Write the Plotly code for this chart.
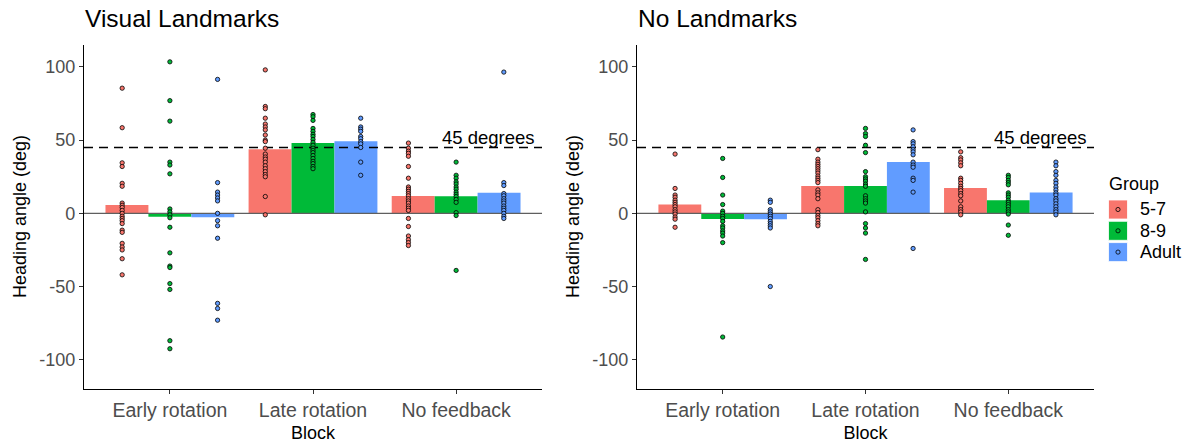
import plotly.graph_objects as go

W, H = 1187, 443

blocks = ["Early rotation", "Late rotation", "No feedback"]
groups = ["5-7", "8-9", "Adult"]
group_colors = ["#F8766D", "#00BA38", "#619CFF"]
panel_titles = ["Visual Landmarks", "No Landmarks"]
y_title = "Heading angle (deg)"
x_title = "Block"
y_ticks = [-100, -50, 0, 50, 100]
target_angle = 45
target_label = "45 degrees"

# Mean heading angle per block (Early, Late, No feedback)
vis_mean_5_7 = [5.7, 43.7, 11.8]
vis_mean_8_9 = [-2.3, 48.0, 11.6]
vis_mean_adult = [-2.6, 49.3, 14.0]
nol_mean_5_7 = [6.0, 18.6, 17.3]
nol_mean_8_9 = [-3.9, 18.6, 9.0]
nol_mean_adult = [-4.0, 35.0, 14.3]

# Individual participants, Visual Landmarks
vis_pts_5_7 = [
    [85.5, 58.5, 34.5, 32, 20.5, 18.5, 7, 5.5, 4, 2, 0, -2, -3.5, -5, -7, -11.5, -13, -20.5, -23, -25, -31, -42],
    [98, 73, 71.5, 65, 61, 59, 57, 53.5, 50, 49, 44.5, 40.5, 38.5, 37, 35, 32.5, 30.5, 28.5, 26.5, 25, 11.5, -1],
    [48, 44.5, 42.5, 41, 39, 32, 24, 18, 16.5, 15, 13.5, 12, 10, 8.5, 7, 5, 3.5, 2, -3.5, -9, -15.5, -18, -20, -22],
]
vis_pts_8_9 = [
    [103.5, 77, 63, 35, 33, 27, 3, 1, -1, -3, -9.5, -27, -36, -37, -48, -52, -87, -92.5],
    [67.5, 66, 63.5, 58, 56, 54, 52.5, 50.5, 48.5, 46.5, 44.5, 43, 41.5, 39.5, 37.5, 35.5, 34, 32, 30.5],
    [35, 26, 24, 21.5, 20, 18, 16.5, 14.5, 13, 11.5, 9.5, 7.5, 0.5, -1.5, -39],
]
vis_pts_adult = [
    [91.5, 21, 14.5, 12.5, 10.5, 8.5, 0, -5, -8.5, -17, -61.5, -65, -73],
    [65, 59, 57.5, 56, 52.5, 51, 49, 47.5, 45, 35, 26],
    [96.5, 21, 19, 13.5, 12, 10, 8.5, 7, 5, 3.5, 2, 0, -2, -3.5],
]

# Individual participants, No Landmarks
nol_pts_5_7 = [
    [40.5, 17, 12.5, 11, 9, 7.5, 6, 4.5, 2.5, 1, -0.5, -2.5, -4, -9.5],
    [43.5, 37, 35, 33.5, 32, 30.5, 29, 27.5, 25.5, 24, 22.5, 21, 16, 14, 12.5, 10, 2.5, 0.5, -1.5, -3, -5, -7, -8.5],
    [42, 38, 36.5, 34.5, 32.5, 24, 22.5, 20.5, 18.5, 17, 15.5, 13.5, 12, 8.5, 4.5, 2.5, 1, -1],
]
nol_pts_8_9 = [
    [37.5, 24.5, 12.5, 6, 1.5, 0, -2, -3.5, -5.5, -8.5, -10, -12, -13.5, -15.5, -20, -84.5],
    [58, 54.5, 52.5, 46.5, 41.5, 28.5, 25, 23.5, 22, 20, 18.5, 12, 10, 8.5, 7, 1, -7, -10, -13.5, -31.5],
    [26, 24.5, 22.5, 21, 19.5, 14, 12.5, 11, 9, 7.5, 6, 4.5, 2.5, 1, -0.5, -8, -15],
]
nol_pts_adult = [
    [9, 7.5, 2.5, 1, -0.5, -2, -3.5, -5.5, -7, -8.5, -10, -50],
    [57, 49, 47.5, 45.5, 43.5, 42, 40, 35, 33, 31.5, 24, 22.5, 14.5, -24],
    [35, 32.5, 28.5, 26, 22.5, 20.5, 18, 16, 14, 12.5, 10, 8.5, 6.5, 4.5, 2.5, 1, -1],
]

panels = [
    ([vis_mean_5_7, vis_mean_8_9, vis_mean_adult], [vis_pts_5_7, vis_pts_8_9, vis_pts_adult]),
    ([nol_mean_5_7, nol_mean_8_9, nol_mean_adult], [nol_pts_5_7, nol_pts_8_9, nol_pts_adult]),
]

FONT = "Arial, Liberation Sans, sans-serif"
BAR_W = 0.3          # dodged bar width
PT_STEP = 1 / 3      # dodge step for the points
X_RANGE = [0.4, 3.6]
Y_RANGE = [-120, 115]

# panel placement in pixels
panel_px = [(84, 542), (637, 1094)]
top_px, bottom_px = 45, 389
y_title_offset = 64   # distance of the rotated y title centre left of the panel edge

cat_x = [i + 1 for i in range(len(blocks))]

fig = go.Figure()

for p, (means, pts) in enumerate(panels):
    xa = "x" if p == 0 else "x2"
    ya = "y" if p == 0 else "y2"
    # bars (means)
    for g, name in enumerate(groups):
        fig.add_trace(go.Bar(
            x=[c + (g - 1) * BAR_W for c in cat_x], y=means[g], width=BAR_W,
            marker=dict(color=group_colors[g], line=dict(width=0)),
            name=name, showlegend=False, xaxis=xa, yaxis=ya, hoverinfo="skip",
        ))
    # zero line and target line
    fig.add_trace(go.Scatter(
        x=X_RANGE, y=[0, 0], mode="lines", line=dict(color="#5f5f5f", width=1.1),
        showlegend=False, xaxis=xa, yaxis=ya, hoverinfo="skip",
    ))
    fig.add_trace(go.Scatter(
        x=X_RANGE, y=[target_angle, target_angle], mode="lines",
        line=dict(color="black", width=1.6, dash="9px,6px"),
        showlegend=False, xaxis=xa, yaxis=ya, hoverinfo="skip",
    ))
    # individual points
    for g, name in enumerate(groups):
        xs, ys = [], []
        for b, c in enumerate(cat_x):
            xs += [c + (g - 1) * PT_STEP] * len(pts[g][b])
            ys += pts[g][b]
        fig.add_trace(go.Scatter(
            x=xs, y=ys, mode="markers",
            marker=dict(size=4.3, color=group_colors[g], line=dict(color="black", width=0.8)),
            showlegend=False, xaxis=xa, yaxis=ya, hoverinfo="skip",
        ))
    fig.add_annotation(
        x=3.225, y=target_angle, xref=xa, yref=ya, text=target_label, showarrow=False,
        xanchor="center", yanchor="bottom", yshift=-3,
        font=dict(family=FONT, size=18.5, color="black"),
    )
    # panel title
    fig.add_annotation(
        x=panel_px[p][0] / W, y=1 - 34 / H, xref="paper", yref="paper",
        text=panel_titles[p], showarrow=False, xanchor="left", yanchor="bottom",
        xshift=-1, font=dict(family=FONT, size=24.5, color="black"),
    )
    # rotated y-axis title
    fig.add_annotation(
        x=(panel_px[p][0] - y_title_offset) / W, y=1 - (top_px + bottom_px) / 2 / H,
        xref="paper", yref="paper", text=y_title, textangle=-90, showarrow=False,
        xanchor="center", yanchor="middle", font=dict(family=FONT, size=18, color="black"),
    )

axis_common = dict(
    showline=True, linecolor="black", linewidth=1.1, ticks="outside", ticklen=4,
    tickcolor="#333333", tickwidth=1.1, showgrid=False, zeroline=False,
    tickfont=dict(family=FONT, size=18, color="#4D4D4D"),
)

layout_axes = {}
for p in range(2):
    sfx = "" if p == 0 else "2"
    layout_axes["xaxis" + sfx] = dict(
        axis_common, domain=[panel_px[p][0] / W, panel_px[p][1] / W], range=X_RANGE,
        tickvals=cat_x, ticktext=blocks, anchor="y" + sfx,
        tickfont=dict(family=FONT, size=19.5, color="#4D4D4D"),
        title=dict(text=x_title, font=dict(family=FONT, size=18, color="black"), standoff=7),
    )
    layout_axes["yaxis" + sfx] = dict(
        axis_common, domain=[1 - bottom_px / H, 1 - top_px / H], range=Y_RANGE,
        tickvals=y_ticks, ticktext=[str(v) for v in y_ticks], anchor="x" + sfx,
    )

fig.update_layout(
    width=W, height=H, margin=dict(l=0, r=0, t=0, b=0),
    paper_bgcolor="white", plot_bgcolor="white", showlegend=False,
    **layout_axes,
)

# legend drawn by hand: title, colour keys with a point glyph, labels
key_x0, key_size, key_pitch, key_top = 1108.5, 19, 21.3, 200
fig.add_annotation(
    x=1107 / W, y=1 - 184 / H, xref="paper", yref="paper", text="Group", showarrow=False,
    xanchor="left", yanchor="middle", font=dict(family=FONT, size=18, color="black"),
)
for g, name in enumerate(groups):
    y0 = key_top + g * key_pitch
    fig.add_shape(
        type="rect", xref="paper", yref="paper",
        x0=key_x0 / W, x1=(key_x0 + key_size) / W,
        y0=1 - (y0 + key_size) / H, y1=1 - y0 / H,
        fillcolor=group_colors[g], line=dict(width=0.8, color="white"),
    )
    cx, cy = key_x0 + key_size / 2, y0 + key_size / 2
    fig.add_shape(
        type="circle", xref="paper", yref="paper", xsizemode="pixel", ysizemode="pixel",
        xanchor=cx / W, yanchor=1 - cy / H, x0=-2.1, x1=2.1, y0=-2.1, y1=2.1,
        fillcolor=group_colors[g], line=dict(width=0.8, color="black"),
    )
    fig.add_annotation(
        x=1138 / W, y=1 - cy / H, xref="paper", yref="paper", text=name, showarrow=False,
        xanchor="left", yanchor="middle", font=dict(family=FONT, size=18, color="black"),
    )

fig.write_html("out.html")
